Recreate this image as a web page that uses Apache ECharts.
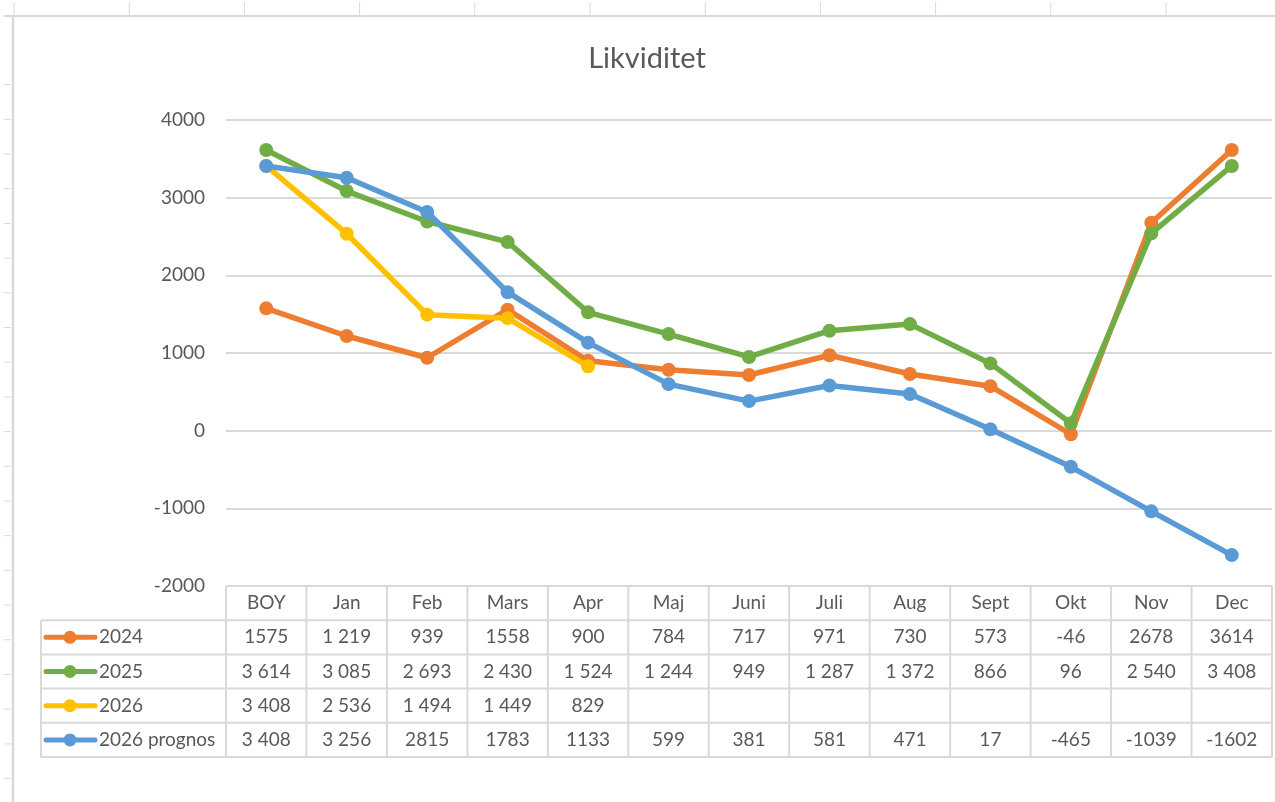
<!DOCTYPE html>
<html lang="sv">
<head>
<meta charset="UTF-8">
<title>Likviditet</title>
<script src="https://cdn.jsdelivr.net/npm/echarts@6/dist/echarts.min.js"></script>
<style>
    html, body { margin: 0; padding: 0; background: #ffffff; }
    #chart { width: 1275px; height: 802px; }
</style>
</head>
<body>
<div id="chart"></div>
<script>
    // kategorier och serier
    var months = ['BOY', 'Jan', 'Feb', 'Mars', 'Apr', 'Maj', 'Juni', 'Juli', 'Aug', 'Sept', 'Okt', 'Nov', 'Dec'];
    var names = ['2024', '2025', '2026', '2026 prognos'];
    var colors = ['#ED7D31', '#70AD47', '#FFC000', '#5B9BD5'];

    var v2024 = [1575, 1219, 939, 1558, 900, 784, 717, 971, 730, 573, -46, 2678, 3614];
    var v2025 = [3614, 3085, 2693, 2430, 1524, 1244, 949, 1287, 1372, 866, 96, 2540, 3408];
    var v2026 = [3408, 2536, 1494, 1449, 829, null, null, null, null, null, null, null, null];
    var vPrognos = [3408, 3256, 2815, 1783, 1133, 599, 381, 581, 471, 17, -465, -1039, -1602];

    // texter i datatabellen, som de visas
    var t2024 = ['1575', '1 219', '939', '1558', '900', '784', '717', '971', '730', '573', '-46', '2678', '3614'];
    var t2025 = ['3 614', '3 085', '2 693', '2 430', '1 524', '1 244', '949', '1 287', '1 372', '866', '96', '2 540', '3 408'];
    var t2026 = ['3 408', '2 536', '1 494', '1 449', '829', '', '', '', '', '', '', '', ''];
    var tPrognos = ['3 408', '3 256', '2815', '1783', '1133', '599', '381', '581', '471', '17', '-465', '-1039', '-1602'];

    var yTicks = [-2000, -1000, 0, 1000, 2000, 3000, 4000];

    var allValues = [v2024, v2025, v2026, vPrognos];
    var allTexts = [t2024, t2025, t2026, tPrognos];

    var FONT = 'Lato, "Open Sans", sans-serif';
    var TXT = '#595959';
    var BORDER = '#d9d9d9';

    var chart = echarts.init(document.getElementById('chart'));

    var series = names.map(function (n, i) {
        return {
            name: n,
            type: 'line',
            data: allValues[i],
            symbol: 'circle',
            symbolSize: 14,
            connectNulls: false,
            lineStyle: { width: 5.5, color: colors[i] },
            itemStyle: { color: colors[i] },
            z: 2 + i
        };
    });

    chart.setOption({
        animation: false,
        title: {
            text: 'Likviditet',
            left: 642,
            top: 39,
            textAlign: 'center',
            textStyle: { fontFamily: FONT, fontSize: 29, fontWeight: 'normal', color: TXT }
        },
        grid: { left: 226, right: 3, top: 120, bottom: 216 },
        xAxis: {
            type: 'category',
            data: months,
            boundaryGap: true,
            axisLine: { show: false },
            axisTick: { show: false },
            axisLabel: { show: false }
        },
        yAxis: {
            type: 'value',
            min: yTicks[0],
            max: yTicks[yTicks.length - 1],
            interval: 1000,
            axisLine: { show: false },
            axisTick: { show: false },
            axisLabel: {
                margin: 21, fontFamily: FONT, fontSize: 19, color: TXT,
                formatter: function (v) { return String(v); }
            },
            splitLine: { lineStyle: { color: BORDER, width: 2 } }
        },
        series: series
    });

    // datatabell och bakgrund
    var g = [];
    function addLine(xa, ya, xb, yb, w) {
        g.push({ type: 'line', shape: { x1: xa, y1: ya, x2: xb, y2: yb },
            style: { stroke: BORDER, lineWidth: w || 2 }, silent: true });
    }
    function addText(t, x, y, align) {
        g.push({ type: 'text', x: x, y: y, silent: true,
            style: { text: t, align: align || 'center', verticalAlign: 'middle',
                font: '19px ' + FONT, fill: TXT } });
    }

    // kalkylbladets rutnät
    for (var c = 0; c < 11; c++) addLine(14 + c * 115.2, 2, 14 + c * 115.2, 15, 1);
    for (var r = 0; r < 21; r++) addLine(4, 84.6 + r * 34.7, 11, 84.6 + r * 34.7, 1);
    addLine(4, 16, 1280, 16, 2);
    addLine(13, 16, 13, 802, 2.5);

    var colStart = chart.convertToPixel({ xAxisIndex: 0 }, 0);
    var colW = chart.convertToPixel({ xAxisIndex: 0 }, 1) - colStart;
    var tblLeft = colStart - colW / 2;
    var tblRight = tblLeft + colW * months.length;
    var tblTop = chart.convertToPixel({ yAxisIndex: 0 }, yTicks[0]);
    var rowH = 34.2;
    var keyLeft = 41;

    addLine(tblLeft, tblTop, tblRight, tblTop);
    for (var k = 1; k <= 5; k++) addLine(keyLeft, tblTop + k * rowH, tblRight, tblTop + k * rowH);
    addLine(keyLeft, tblTop + rowH, keyLeft, tblTop + 5 * rowH);
    for (var m = 0; m <= months.length; m++) addLine(tblLeft + m * colW, tblTop, tblLeft + m * colW, tblTop + 5 * rowH);

    months.forEach(function (mo, i) {
        var cx = chart.convertToPixel({ xAxisIndex: 0 }, i);
        addText(mo, cx, tblTop + rowH / 2);
        allTexts.forEach(function (arr, s) {
            if (arr[i] !== '') addText(arr[i], cx, tblTop + (s + 1.5) * rowH);
        });
    });

    names.forEach(function (n, s) {
        var cy = tblTop + (s + 1.5) * rowH;
        g.push({ type: 'line', shape: { x1: 46, y1: cy, x2: 95, y2: cy }, silent: true,
            style: { stroke: colors[s], lineWidth: 5, lineCap: 'round' } });
        g.push({ type: 'circle', shape: { cx: 70, cy: cy, r: 6.5 }, silent: true,
            style: { fill: colors[s] } });
        addText(n, 99, cy, 'left');
    });

    chart.setOption({ graphic: { elements: g } });
</script>
</body>
</html>
